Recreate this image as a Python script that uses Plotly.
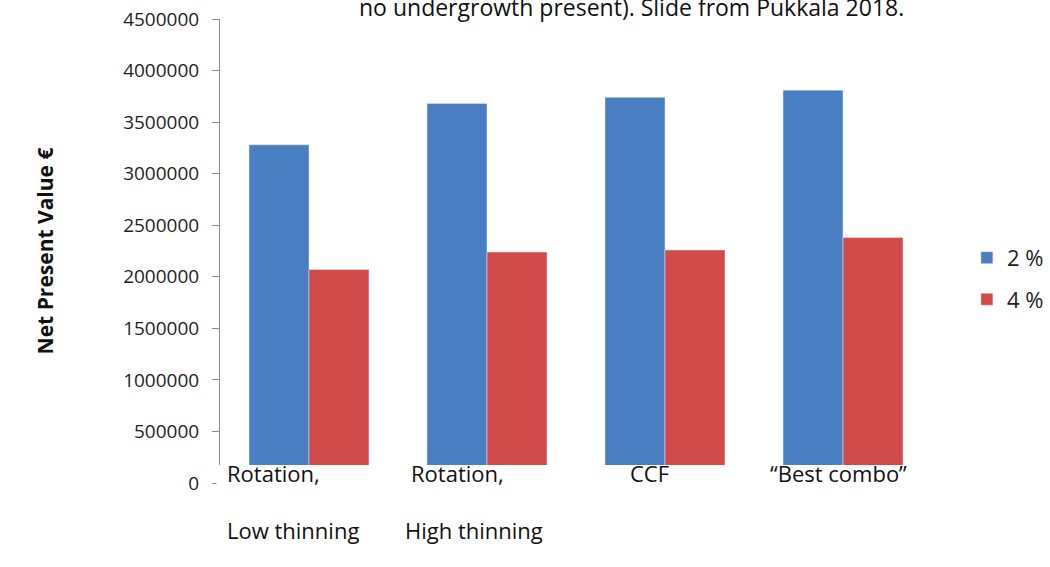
import plotly.graph_objects as go

# Net present value by management scenario and discount rate
categories = ["Rotation, Low thinning", "Rotation, High thinning", "CCF", "Best combo"]
npv_2pct = [3280000, 3680000, 3740000, 3810000]
npv_4pct = [2070000, 2240000, 2260000, 2380000]
y_ticks = [0, 500000, 1000000, 1500000, 2000000, 2500000, 3000000, 3500000, 4000000, 4500000]

# category label lines: (category index, line1, line2, x offset line1, x offset line2)
label_lines = [
    (0, "Rotation,", "Low thinning", -84, -84),
    (1, "Rotation,", "High thinning", -78, -84),
    (2, "CCF", "", -37, 0),
    (3, "\u201cBest combo\u201d", "", -75, 0),
]

FONT = "Open Sans"
TICK_FONT = "Liberation Sans Narrow, Open Sans"
BLUE = "#4a7ec2"
RED = "#d04a4a"

fig = go.Figure()
fig.add_trace(go.Bar(x=categories, y=npv_2pct, name="2 %", marker_color=BLUE,
                     legendgroup="a"))
fig.add_trace(go.Bar(x=categories, y=npv_4pct, name="4 %", marker_color=RED,
                     legendgroup="b"))

annotations = []
for idx, l1, l2, dx1, dx2 in label_lines:
    annotations.append(dict(x=categories[idx], y=0, xref="x", yref="y", text=l1,
                            showarrow=False, xanchor="left", yanchor="middle",
                            xshift=dx1, yshift=10, font=dict(family=FONT, size=22, color="#111")))
    if l2:
        annotations.append(dict(x=categories[idx], y=0, xref="x", yref="y", text=l2,
                                showarrow=False, xanchor="left", yanchor="middle",
                                xshift=dx2, yshift=-47, font=dict(family=FONT, size=22, color="#111")))

annotations.append(dict(x=0.578, y=1.026, xref="paper", yref="paper",
                        text="no undergrowth present). Slide from Pukkala 2018.",
                        showarrow=False, xanchor="center", yanchor="middle",
                        font=dict(family=FONT, size=23, color="#111")))

fig.update_layout(
    width=1050, height=567,
    margin=dict(l=220, r=118, t=19, b=84, autoexpand=False),
    paper_bgcolor="white", plot_bgcolor="white",
    barmode="group", bargap=0.326, bargroupgap=0,
    font=dict(family=FONT, size=18, color="#222"),
    xaxis=dict(showticklabels=False, showline=False, ticks="", showgrid=False,
               zeroline=False),
    yaxis=dict(range=[0, 4500000], tickvals=y_ticks,
               ticktext=[str(v) for v in y_ticks],
               showgrid=False, zeroline=False, showline=True, linecolor="#8a8a8a",
               linewidth=1, ticks="outside", ticklen=7, tickcolor="#8a8a8a",
               ticklabelstandoff=9,
               tickfont=dict(family=TICK_FONT, size=19, color="#1e1e1e"),
               title=dict(text="<b>Net Present Value \u20ac</b>", standoff=63,
                          font=dict(family=FONT, size=21, color="#111"))),
    legend=dict(x=1.049, y=0.44, xanchor="left", yanchor="middle",
                traceorder="grouped", tracegroupgap=10,
                font=dict(family=FONT, size=22, color="#222"),
                bgcolor="rgba(0,0,0,0)"),
    annotations=annotations,
    shapes=[
        # white label band over the base of the bars
        dict(type="rect", xref="paper", yref="paper", x0=-0.005, x1=1.01,
             y0=-0.2, y1=(483 - 465) / 464, fillcolor="white", line_width=0,
             layer="above"),
    ],
)

fig.write_html("out.html")
